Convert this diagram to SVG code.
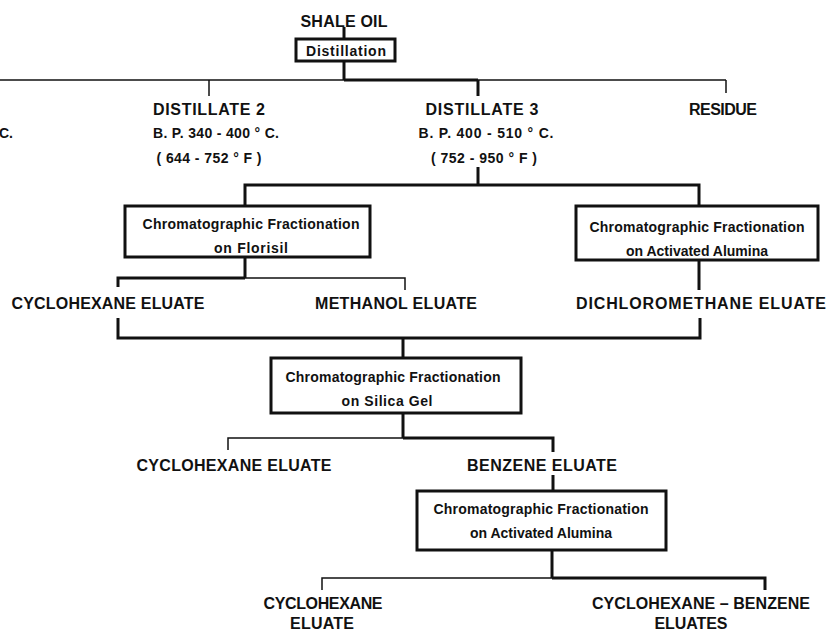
<svg xmlns="http://www.w3.org/2000/svg" width="829" height="633" viewBox="0 0 829 633">
<style>
.bg{fill:#fff}
.lbl{font-family:"Liberation Sans",Arial,sans-serif;font-weight:bold;font-size:16px;fill:#111;text-anchor:middle}
.bp{font-family:"Liberation Sans",Arial,sans-serif;font-weight:bold;font-size:14px;fill:#111;text-anchor:middle}
.bx{font-family:"Liberation Sans",Arial,sans-serif;font-weight:bold;font-size:14px;fill:#111;text-anchor:middle}
.box{fill:#fff;stroke:#111;stroke-width:3}
.thick{stroke:#111;stroke-width:3;fill:none}
.thin{stroke:#111;stroke-width:1.5;fill:none}
</style>
<rect class="bg" x="0" y="0" width="829" height="633"/>
<g id="connectors">
<line class="thick" x1="344" y1="27" x2="344" y2="39"/>
<line class="thick" x1="344" y1="61" x2="344" y2="80"/>
<line class="thin" x1="0" y1="80" x2="344" y2="80"/>
<line class="thick" x1="344" y1="80" x2="478" y2="80"/>
<line class="thin" x1="478" y1="80" x2="726" y2="80"/>
<line class="thin" x1="209" y1="80" x2="209" y2="96"/>
<line class="thick" x1="478" y1="80" x2="478" y2="96"/>
<line class="thin" x1="726" y1="80" x2="726" y2="93"/>
<line class="thick" x1="478" y1="167" x2="478" y2="185"/>
<path class="thick" d="M245 206 V185 H699 V206"/>
<line class="thick" x1="245" y1="257" x2="245" y2="278"/>
<path class="thick" d="M118 287 V278 H245"/>
<path class="thin" d="M245 278 H405 V290"/>
<line class="thick" x1="699" y1="261" x2="699" y2="290"/>
<path class="thick" d="M118 318 V338 H700 V318"/>
<line class="thick" x1="403" y1="338" x2="403" y2="358"/>
<line class="thick" x1="403" y1="413" x2="403" y2="438"/>
<path class="thin" d="M228 450 V438 H403"/>
<path class="thick" d="M403 438 H553 V452"/>
<line class="thick" x1="553" y1="475" x2="553" y2="491"/>
<line class="thick" x1="552" y1="550" x2="552" y2="578"/>
<path class="thin" d="M322 590 V578 H552"/>
<path class="thick" d="M552 578 H765 V590"/>
</g>
<g id="shale-oil"><text class="lbl" x="344" y="27" textLength="87" lengthAdjust="spacing">SHALE OIL</text></g>
<g id="distillation">
<rect class="box" x="296" y="39" width="99" height="22"/>
<text class="bx" x="346" y="56" textLength="80" lengthAdjust="spacing">Distillation</text>
</g>
<g id="distillate-1"><text class="bp" x="13" y="138" style="text-anchor:end">C.</text></g>
<g id="distillate-2">
<text class="lbl" x="209" y="115" textLength="112" lengthAdjust="spacing">DISTILLATE 2</text>
<text class="bp" x="216" y="138" textLength="126" lengthAdjust="spacing">B. P. 340 - 400 ° C.</text>
<text class="bp" x="209" y="163" textLength="105" lengthAdjust="spacing">( 644 - 752 ° F )</text>
</g>
<g id="distillate-3">
<text class="lbl" x="482" y="115" textLength="113" lengthAdjust="spacing">DISTILLATE 3</text>
<text class="bp" x="486" y="138" textLength="135" lengthAdjust="spacing">B. P. 400 - 510 ° C.</text>
<text class="bp" x="484" y="163" textLength="106" lengthAdjust="spacing">( 752 - 950 ° F )</text>
</g>
<g id="residue"><text class="lbl" x="723" y="115" textLength="68" lengthAdjust="spacing">RESIDUE</text></g>
<g id="florisil">
<rect class="box" x="125" y="206" width="245" height="51"/>
<text class="bx" x="251" y="229" textLength="217" lengthAdjust="spacing">Chromatographic Fractionation</text>
<text class="bx" x="251" y="253" textLength="74" lengthAdjust="spacing">on Florisil</text>
</g>
<g id="alumina-1">
<rect class="box" x="576" y="206" width="242" height="54"/>
<text class="bx" x="697" y="232" textLength="215" lengthAdjust="spacing">Chromatographic Fractionation</text>
<text class="bx" x="697" y="256" textLength="142" lengthAdjust="spacing">on Activated Alumina</text>
</g>
<g id="cyclohexane-eluate-1"><text class="lbl" x="108" y="309" textLength="193" lengthAdjust="spacing">CYCLOHEXANE ELUATE</text></g>
<g id="methanol-eluate"><text class="lbl" x="396" y="309" textLength="162" lengthAdjust="spacing">METHANOL ELUATE</text></g>
<g id="dichloromethane-eluate"><text class="lbl" x="701" y="309" textLength="250" lengthAdjust="spacing">DICHLOROMETHANE ELUATE</text></g>
<g id="silica-gel">
<rect class="box" x="271" y="358" width="250" height="55"/>
<text class="bx" x="393" y="382" textLength="215" lengthAdjust="spacing">Chromatographic Fractionation</text>
<text class="bx" x="387" y="406" textLength="91" lengthAdjust="spacing">on Silica Gel</text>
</g>
<g id="cyclohexane-eluate-2"><text class="lbl" x="234" y="471" textLength="195" lengthAdjust="spacing">CYCLOHEXANE ELUATE</text></g>
<g id="benzene-eluate"><text class="lbl" x="542" y="471" textLength="150" lengthAdjust="spacing">BENZENE ELUATE</text></g>
<g id="alumina-2">
<rect class="box" x="417" y="491" width="249" height="59"/>
<text class="bx" x="541" y="514" textLength="215" lengthAdjust="spacing">Chromatographic Fractionation</text>
<text class="bx" x="541" y="538" textLength="142" lengthAdjust="spacing">on Activated Alumina</text>
</g>
<g id="cyclohexane-eluate-3">
<text class="lbl" x="323" y="609" textLength="119" lengthAdjust="spacing">CYCLOHEXANE</text>
<text class="lbl" x="322" y="629" textLength="64" lengthAdjust="spacing">ELUATE</text>
</g>
<g id="cyclohexane-benzene-eluates">
<text class="lbl" x="701" y="609" textLength="218" lengthAdjust="spacing">CYCLOHEXANE – BENZENE</text>
<text class="lbl" x="691" y="629" textLength="73" lengthAdjust="spacing">ELUATES</text>
</g>
</svg>
